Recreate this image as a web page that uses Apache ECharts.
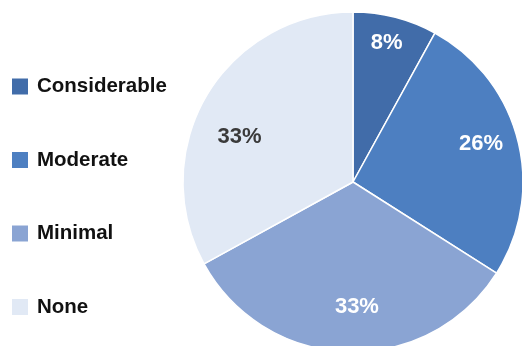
<!DOCTYPE html>
<html>
<head>
<meta charset="utf-8">
<script src="https://cdn.jsdelivr.net/npm/echarts@6/dist/echarts.min.js"></script>
<style>
  html, body { margin: 0; padding: 0; background: #ffffff; }
  #chart { width: 522px; height: 346px; }
</style>
</head>
<body>
<div id="chart"></div>
<script>
// Degree of impact, share of respondents (%)
const categories = ['Considerable', 'Moderate', 'Minimal', 'None'];
const shares = [8, 26, 33, 33];

const sliceColors = ['#416ca9', '#4d7fc1', '#8aa4d3', '#e1e9f5'];
const labelColors = ['#ffffff', '#ffffff', '#ffffff', '#3a3a3a'];
// value label placement: distance from the pie centre (px) and turn away from the slice bisector (deg)
const labelRadius = [141, 131, 121, 119.5];
const labelTurn = [-0.9, -2.8, -3.7, -8.7];

const center = [353, 182];
const radius = 170;

const total = shares.reduce((a, b) => a + b, 0);
let cumulative = 0;
const pieData = categories.map((name, i) => {
  const mid = (cumulative + shares[i] / 2) / total * 2 * Math.PI;
  cumulative += shares[i];
  const target = mid + labelTurn[i] * Math.PI / 180;
  // 'inside' labels sit on the bisector at half the radius; move them to the target spot
  const base = radius / 2;
  const dx = labelRadius[i] * Math.sin(target) - base * Math.sin(mid);
  const dy = -labelRadius[i] * Math.cos(target) + base * Math.cos(mid);
  return {
    name: name,
    value: shares[i],
    itemStyle: { color: sliceColors[i] },
    label: {
      color: labelColors[i],
      offset: [dx, dy + 1]
    }
  };
});

const chart = echarts.init(document.getElementById('chart'), null, { renderer: 'canvas' });
chart.setOption({
  animation: false,
  legend: {
    orient: 'vertical',
    left: 5,
    top: 71,
    icon: 'rect',
    itemWidth: 18,
    itemHeight: 18,
    itemGap: 52.5,
    selectedMode: false,
    data: categories,
    textStyle: {
      fontFamily: 'Liberation Sans, Arial, sans-serif',
      fontWeight: 'bold',
      fontSize: 20.5,
      color: '#111111',
      padding: [0, 0, 0, 3]
    }
  },
  series: [{
    type: 'pie',
    center: center,
    radius: radius,
    startAngle: 90,
    clockwise: true,
    silent: true,
    data: pieData,
    itemStyle: { borderColor: '#ffffff', borderWidth: 1.5 },
    label: {
      position: 'inside',
      formatter: '{c}%',
      fontFamily: 'Liberation Sans, Arial, sans-serif',
      fontWeight: 'bold',
      fontSize: 22
    },
    labelLine: { show: false }
  }]
});
</script>
</body>
</html>
